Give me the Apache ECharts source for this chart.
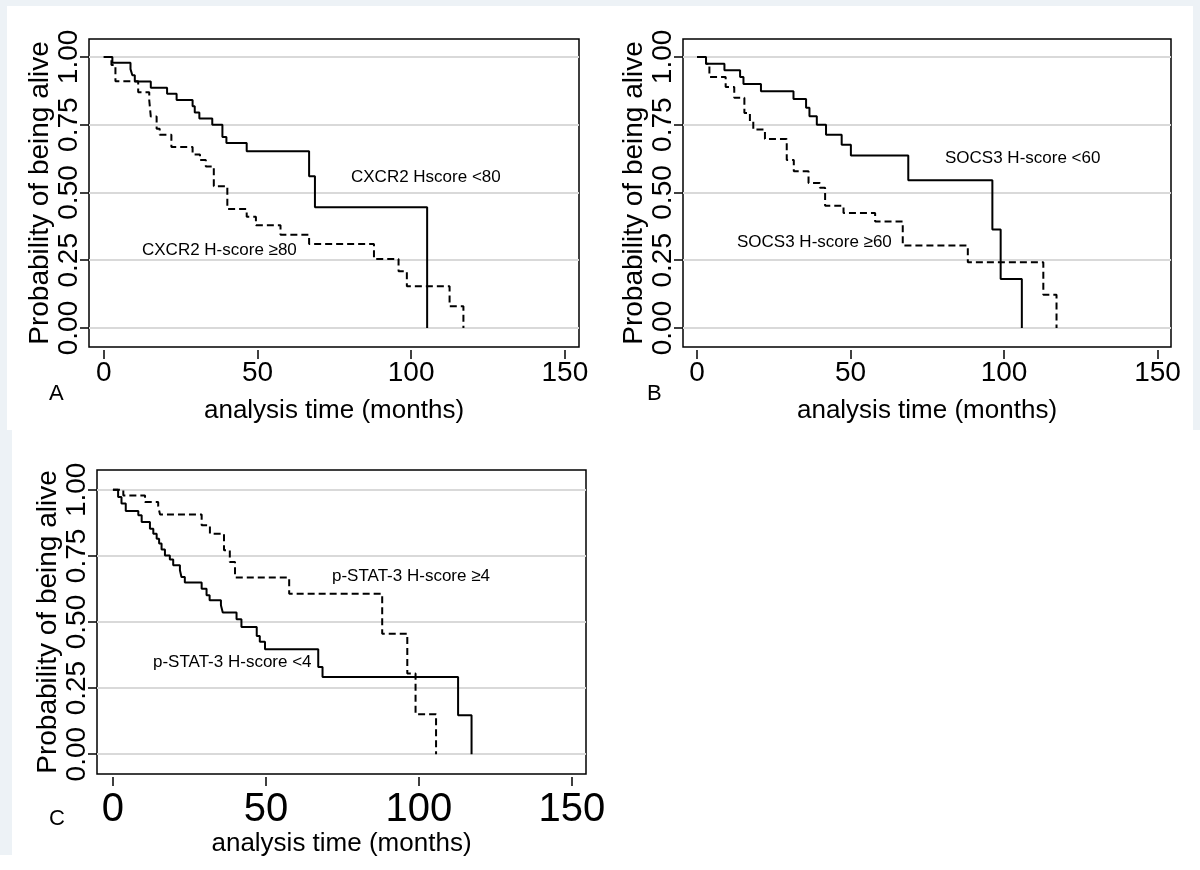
<!DOCTYPE html>
<html>
<head>
<meta charset="utf-8">
<script src="https://cdn.jsdelivr.net/npm/echarts@6/dist/echarts.min.js"></script>
<style>
  html, body { margin: 0; padding: 0; background: #fff; }
  #chart { width: 1200px; height: 870px; }
</style>
</head>
<body>
<div id="chart"></div>
<script>
// Kaplan-Meier steps: [analysis time (months), survival]
var cxcr2Low = [[0,1],[2.8,0.978],[8.7,0.955],[9.3,0.932],[10.1,0.909],[15.3,0.886],[20.6,0.864],[23.7,0.841],[28.9,0.818],[29.6,0.795],[31.1,0.773],[35.3,0.75],[38.6,0.705],[39.9,0.682],[46.5,0.652],[66.8,0.56],[68.7,0.445],[105.2,0]];
var cxcr2High = [[0,1],[2.5,0.97],[3.8,0.91],[11.2,0.87],[14.8,0.84],[15.3,0.78],[17.2,0.735],[18.2,0.713],[22,0.668],[28.9,0.64],[31.3,0.62],[33.2,0.596],[35.8,0.523],[40.2,0.439],[46.5,0.41],[49.5,0.379],[57.5,0.344],[66.8,0.31],[87.9,0.255],[95.9,0.209],[98.6,0.154],[112.5,0.08],[117,0]];

var socs3Low = [[0,1],[2.9,0.975],[8.9,0.951],[14,0.926],[15.1,0.9],[20.8,0.873],[31.4,0.845],[35.5,0.812],[36.6,0.781],[39,0.75],[42,0.713],[47.1,0.676],[50.1,0.636],[68.8,0.545],[96.2,0.363],[98.9,0.181],[105.8,0]];
var socs3High = [[0,1],[2.9,0.975],[4,0.926],[9.3,0.889],[12.1,0.849],[15.4,0.793],[17.2,0.762],[18.3,0.732],[22.1,0.697],[29.2,0.62],[31.5,0.578],[36.3,0.535],[40,0.517],[41.7,0.451],[47.7,0.424],[58,0.393],[67,0.304],[88.2,0.243],[112.8,0.123],[117.1,0]];

var pstat3Low = [[0,1],[1.7,0.973],[2.8,0.948],[4.2,0.92],[8.3,0.904],[9.4,0.878],[12.1,0.853],[13.2,0.834],[14.3,0.815],[15.1,0.797],[15.9,0.774],[17,0.752],[18.6,0.736],[19.7,0.715],[21.9,0.696],[22.4,0.67],[23.5,0.649],[29,0.626],[30.6,0.601],[31.6,0.582],[35.3,0.563],[35.9,0.536],[40.4,0.51],[42,0.481],[47,0.447],[48,0.425],[49.7,0.397],[67.1,0.33],[68.5,0.292],[112.8,0.147],[117.2,0]];
var pstat3High = [[0,1],[3.4,0.979],[10.5,0.954],[14.8,0.937],[15.4,0.907],[29,0.866],[31.7,0.834],[36.3,0.771],[38.2,0.727],[39.9,0.668],[57.6,0.607],[88,0.456],[96.2,0.305],[98.9,0.151],[105.6,0]];

var xTicks = [0, 50, 100, 150];
var yTicks = [0, 0.25, 0.5, 0.75, 1];
var panelLetters = ['A', 'B', 'C'];
var xTitle = 'analysis time (months)';
var yTitle = 'Probability of being alive';

var font = '"Liberation Sans", Arial, sans-serif';
var strip = '#edf2f6';

var chart = echarts.init(document.getElementById('chart'));

var grids = [
  { left: 89, top: 39, width: 490, height: 308 },
  { left: 683, top: 39, width: 488, height: 308 },
  { left: 97, top: 470, width: 489, height: 304 }
];
var xRange = [[-4.8, 154.6], [-4.6, 154.4], [-5.2, 154.6]];
var yRange = [[-0.07, 1.066], [-0.07, 1.066], [-0.075, 1.075]];
var xLabelSize = [28, 28, 40];
var xLabelMargin = [9, 9, 13];
var xNameGap = [48, 48, 52];

var xAxes = [], yAxes = [];
grids.forEach(function (g, i) {
  g.show = true;
  g.borderColor = '#000';
  g.borderWidth = 1.5;
  g.backgroundColor = 'transparent';
  g.outerBoundsMode = 'none';
  xAxes.push({
    type: 'value', gridIndex: i, min: xRange[i][0], max: xRange[i][1],
    offset: 3,
    axisLine: { show: false, onZero: false },
    splitLine: { show: false },
    axisTick: { show: true, length: 9, customValues: xTicks, lineStyle: { color: '#000', width: 1.5 } },
    axisLabel: { customValues: xTicks, fontSize: xLabelSize[i], margin: xLabelMargin[i], color: '#000', fontFamily: font },
    name: xTitle, nameLocation: 'middle', nameGap: xNameGap[i],
    nameTextStyle: { fontSize: 26, color: '#000', fontFamily: font }
  });
  yAxes.push({
    type: 'value', gridIndex: i, min: yRange[i][0], max: yRange[i][1],
    axisLine: { show: false, onZero: false },
    splitLine: { show: false },
    axisTick: { show: true, length: 9, customValues: yTicks, lineStyle: { color: '#000', width: 1.5 } },
    axisLabel: {
      customValues: yTicks, rotate: 90, fontSize: 28, margin: 6, color: '#000', fontFamily: font,
      formatter: function (v) { return v.toFixed(2); }
    },
    name: yTitle, nameLocation: 'middle', nameGap: 32,
    nameTextStyle: { fontSize: 28, color: '#000', fontFamily: font }
  });
});

function gridLines(i) {
  return {
    type: 'line', xAxisIndex: i, yAxisIndex: i, data: [], silent: true, z: 1,
    markLine: {
      silent: true, symbol: 'none', animation: false,
      label: { show: false },
      lineStyle: { color: '#d9d9d9', width: 2, type: 'solid' },
      emphasis: { disabled: true },
      data: yTicks.map(function (v) { return { yAxis: v }; })
    }
  };
}

function kmCurve(i, data, dashed) {
  return {
    type: 'line', xAxisIndex: i, yAxisIndex: i, data: data, step: 'end',
    showSymbol: false, symbol: 'none', silent: true, z: 10,
    lineStyle: { color: '#000', width: 2, type: dashed ? [7, 4] : 'solid' }
  };
}

function note(text, x, y, size) {
  return {
    type: 'text', left: x, top: y - size / 2 - 1, z: 20,
    style: { text: text, font: size + 'px ' + font, fill: '#000' }
  };
}

chart.setOption({
  animation: false,
  backgroundColor: '#fff',
  textStyle: { fontFamily: font },
  grid: grids,
  xAxis: xAxes,
  yAxis: yAxes,
  series: [
    gridLines(0), gridLines(1), gridLines(2),
    kmCurve(0, cxcr2Low, false), kmCurve(0, cxcr2High, true),
    kmCurve(1, socs3Low, false), kmCurve(1, socs3High, true),
    kmCurve(2, pstat3Low, false), kmCurve(2, pstat3High, true)
  ],
  graphic: [
    // page frame strips
    { type: 'rect', shape: { x: 0, y: 0, width: 1200, height: 6 }, style: { fill: strip }, z: 0 },
    { type: 'rect', shape: { x: 0, y: 0, width: 7, height: 430 }, style: { fill: strip }, z: 0 },
    { type: 'rect', shape: { x: 1193, y: 0, width: 7, height: 430 }, style: { fill: strip }, z: 0 },
    { type: 'rect', shape: { x: 0, y: 430, width: 12, height: 425 }, style: { fill: strip }, z: 0 },
    // curve annotations
    note('CXCR2 Hscore <80', 351, 178, 17),
    note('CXCR2 H-score \u226580', 142, 251, 17),
    note('SOCS3 H-score <60', 945, 159, 17),
    note('SOCS3 H-score \u226560', 737, 243, 17),
    note('p-STAT-3 H-score \u22654', 332, 577, 17),
    note('p-STAT-3 H-score <4', 153, 663, 17),
    // panel letters
    note(panelLetters[0], 49, 395, 22),
    note(panelLetters[1], 647, 395, 22),
    note(panelLetters[2], 49, 820, 22)
  ]
});
</script>
</body>
</html>
